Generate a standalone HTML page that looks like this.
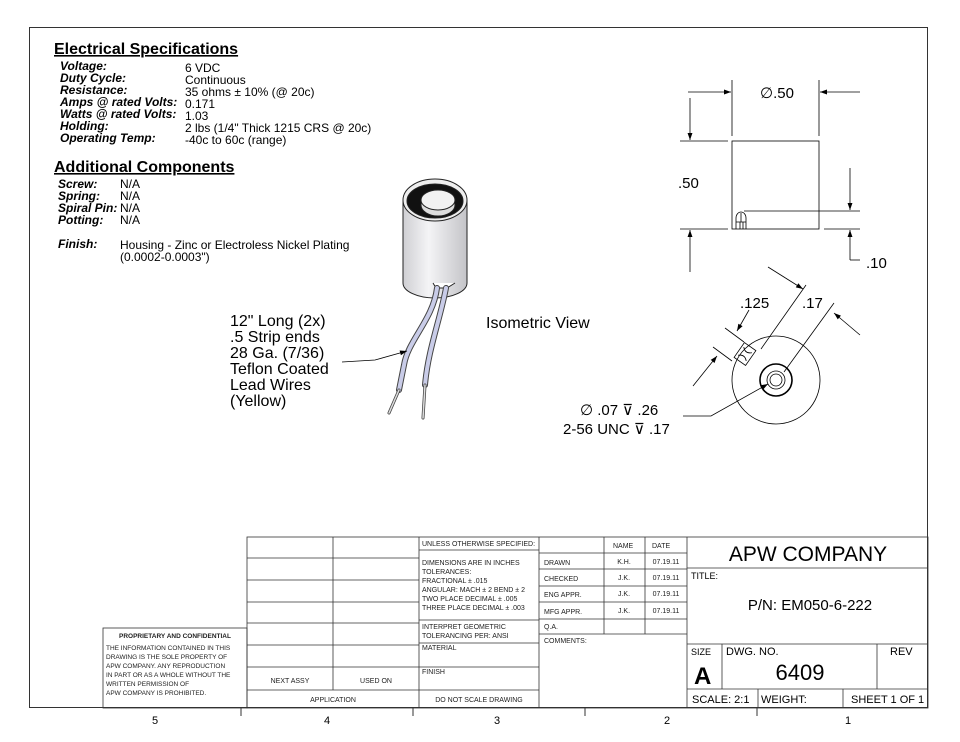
<!DOCTYPE html>
<html><head><meta charset="utf-8"><style>
html,body{margin:0;padding:0;background:#fff;}
svg{display:block;font-family:"Liberation Sans",sans-serif;}
</style></head><body>
<svg width="960" height="742" viewBox="0 0 960 742" xmlns="http://www.w3.org/2000/svg">
<defs>
<marker id="ar" viewBox="0 0 10 10" refX="10" refY="5" markerWidth="9" markerHeight="7" orient="auto" markerUnits="userSpaceOnUse"><path d="M0,1.5 L10,5 L0,8.5 z" fill="#000"/></marker>
<linearGradient id="cyl" x1="0" x2="1"><stop offset="0" stop-color="#cfcfd3"/><stop offset="0.4" stop-color="#f4f4f6"/><stop offset="1" stop-color="#c4c4c8"/></linearGradient>
</defs>
<rect x="0" y="0" width="960" height="742" fill="#fff"/>
<rect x="29.5" y="27.5" width="898" height="680" fill="none" stroke="#333" stroke-width="1"/>
<g stroke="#333" stroke-width="1">
<line x1="241" y1="708" x2="241" y2="716"/><line x1="413" y1="708" x2="413" y2="716"/><line x1="585" y1="708" x2="585" y2="716"/><line x1="757" y1="708" x2="757" y2="716"/>
</g>
<g font-size="11" text-anchor="middle"><text x="155" y="724">5</text><text x="327" y="724">4</text><text x="497" y="724">3</text><text x="667" y="724">2</text><text x="848" y="724">1</text></g>

<text x="54" y="54" font-size="16" font-weight="bold" text-decoration="underline">Electrical Specifications</text>
<g font-size="12" font-weight="bold" font-style="italic">
<text x="60" y="70">Voltage:</text><text x="60" y="82">Duty Cycle:</text><text x="60" y="94">Resistance:</text><text x="60" y="106">Amps @ rated Volts:</text><text x="60" y="118">Watts @ rated Volts:</text><text x="60" y="130">Holding:</text><text x="60" y="142">Operating Temp:</text>
</g>
<g font-size="12">
<text x="185" y="72">6 VDC</text><text x="185" y="84">Continuous</text><text x="185" y="96">35 ohms ± 10% (@ 20c)</text><text x="185" y="108">0.171</text><text x="185" y="120">1.03</text><text x="185" y="132">2 lbs (1/4" Thick 1215 CRS @ 20c)</text><text x="185" y="144">-40c to 60c (range)</text>
</g>
<text x="54" y="172" font-size="16" font-weight="bold" text-decoration="underline">Additional Components</text>
<g font-size="12" font-weight="bold" font-style="italic">
<text x="58" y="188">Screw:</text><text x="58" y="200">Spring:</text><text x="58" y="212">Spiral Pin:</text><text x="58" y="224">Potting:</text><text x="58" y="248">Finish:</text>
</g>
<g font-size="12">
<text x="120" y="188">N/A</text><text x="120" y="200">N/A</text><text x="120" y="212">N/A</text><text x="120" y="224">N/A</text>
<text x="120" y="249">Housing - Zinc or Electroless Nickel Plating</text><text x="120" y="261">(0.0002-0.0003")</text>
</g>

<g stroke="#222" stroke-width="1">
<path d="M403,200 L403,283 A32,15 0 0 0 467,283 L467,200 Z" fill="url(#cyl)"/>
<ellipse cx="435" cy="200" rx="32" ry="21" fill="#eee"/>
<ellipse cx="435" cy="201" rx="28" ry="17" fill="#111"/>
<ellipse cx="438" cy="205" rx="17" ry="11" fill="#ddd"/>
<ellipse cx="438" cy="200" rx="17" ry="10" fill="#f2f2f2"/>
<path d="M433,283 L436,288 L447,288 L455,283" fill="#fff"/>
</g>
<g fill="none" stroke-linecap="round">
<path d="M437,288 C433,320 408,340 404,365 L399,390" stroke="#444" stroke-width="6"/>
<path d="M437,288 C433,320 408,340 404,365 L399,390" stroke="#c9cce8" stroke-width="4"/>
<path d="M399,390 L389,413" stroke="#444" stroke-width="3"/><path d="M399,390 L389,413" stroke="#ddd" stroke-width="1.5"/>
<path d="M446,288 C440,320 428,350 425,385" stroke="#444" stroke-width="6"/>
<path d="M446,288 C440,320 428,350 425,385" stroke="#c9cce8" stroke-width="4"/>
<path d="M425,385 L423,418" stroke="#444" stroke-width="3"/><path d="M425,385 L423,418" stroke="#ddd" stroke-width="1.5"/>
</g>
<polyline points="342,362 375,360 407,351" fill="none" stroke="#000" stroke-width="0.8" marker-end="url(#ar)"/>
<g font-size="16">
<text x="230" y="326">12" Long (2x)</text><text x="230" y="342">.5 Strip ends</text><text x="230" y="358">28 Ga. (7/36)</text><text x="230" y="374">Teflon Coated</text><text x="230" y="390">Lead Wires</text><text x="230" y="406">(Yellow)</text>
<text x="486" y="328">Isometric View</text>
</g>

<g stroke="#000" stroke-width="0.8" fill="none">
<rect x="732" y="141" width="87" height="88"/>
<line x1="732" y1="80" x2="732" y2="136"/><line x1="819" y1="80" x2="819" y2="136"/>
<line x1="688" y1="92" x2="731" y2="92" marker-end="url(#ar)"/><line x1="860" y1="92" x2="820" y2="92" marker-end="url(#ar)"/>
<line x1="680" y1="141" x2="728" y2="141"/><line x1="680" y1="229" x2="728" y2="229"/>
<line x1="690" y1="98" x2="690" y2="140" marker-end="url(#ar)"/><line x1="690" y1="272" x2="690" y2="230" marker-end="url(#ar)"/>
<line x1="744" y1="211" x2="860" y2="211"/><line x1="824" y1="229" x2="860" y2="229"/>
<line x1="850" y1="168" x2="850" y2="210" marker-end="url(#ar)"/><line x1="850" y1="260" x2="850" y2="230" marker-end="url(#ar)"/>
<line x1="850" y1="260" x2="860" y2="260"/>
<path d="M736,229 L736,218 A5,6 0 0 1 746,218 L746,229 M736,222 L746,222 M740,222 L740,229 M743,222 L743,229 M741,213 L741,222"/>
</g>
<text x="760" y="98" font-size="15">∅.50</text>
<text x="678" y="188" font-size="15">.50</text>
<text x="866" y="268" font-size="15">.10</text>

<g stroke="#000" stroke-width="0.8" fill="none">
<circle cx="776" cy="380" r="44"/>
<circle cx="776" cy="380" r="16" stroke-width="1.6"/>
<circle cx="776" cy="380" r="9"/><circle cx="776" cy="380" r="6"/>
<g transform="rotate(-55 745 354)"><rect x="736" y="347" width="18" height="14"/><path d="M740,349 Q745,354 740,359 M750,349 Q745,354 750,359"/></g>
<line x1="761" y1="349" x2="806" y2="285"/><line x1="784" y1="372" x2="834" y2="303"/>
<line x1="768" y1="267" x2="803" y2="289" marker-end="url(#ar)"/><line x1="860" y1="335" x2="834" y2="313" marker-end="url(#ar)"/>
<line x1="744" y1="342" x2="725" y2="328"/><line x1="732" y1="361" x2="713" y2="347"/>
<line x1="749" y1="310" x2="737" y2="331" marker-end="url(#ar)"/><line x1="693" y1="386" x2="717" y2="356" marker-end="url(#ar)"/>
<polyline points="683,416 711,416 768,384" marker-end="url(#ar)"/>
</g>
<text x="740" y="308" font-size="15">.125</text>
<text x="802" y="308" font-size="15">.17</text>
<text x="580" y="415" font-size="15">∅ .07 ⊽ .26</text>
<text x="563" y="434" font-size="15">2-56 UNC ⊽ .17</text>

<g stroke="#333" stroke-width="0.8" fill="none">
<rect x="247" y="537" width="681" height="171"/>
<line x1="333" y1="537" x2="333" y2="690"/><line x1="419" y1="537" x2="419" y2="708"/><line x1="539" y1="537" x2="539" y2="708"/><line x1="687" y1="537" x2="687" y2="708"/>
<line x1="247" y1="558" x2="419" y2="558"/><line x1="247" y1="580" x2="419" y2="580"/><line x1="247" y1="602" x2="419" y2="602"/><line x1="247" y1="623" x2="419" y2="623"/><line x1="247" y1="645" x2="419" y2="645"/><line x1="247" y1="667" x2="419" y2="667"/><line x1="247" y1="690" x2="539" y2="690"/>
<line x1="419" y1="550" x2="539" y2="550"/><line x1="419" y1="620" x2="539" y2="620"/><line x1="419" y1="643" x2="539" y2="643"/><line x1="419" y1="667" x2="539" y2="667"/>
<line x1="539" y1="553" x2="687" y2="553"/><line x1="539" y1="569" x2="687" y2="569"/><line x1="539" y1="586" x2="687" y2="586"/><line x1="539" y1="602" x2="687" y2="602"/><line x1="539" y1="619" x2="687" y2="619"/><line x1="539" y1="634" x2="687" y2="634"/>
<line x1="604" y1="537" x2="604" y2="634"/><line x1="645" y1="537" x2="645" y2="634"/>
<line x1="687" y1="568" x2="928" y2="568"/><line x1="687" y1="644" x2="928" y2="644"/><line x1="687" y1="689" x2="928" y2="689"/>
<line x1="722" y1="644" x2="722" y2="689"/><line x1="877" y1="644" x2="877" y2="689"/><line x1="758" y1="689" x2="758" y2="708"/><line x1="843" y1="689" x2="843" y2="708"/>
<rect x="103" y="628" width="144" height="80"/>
</g>
<g font-size="7" fill="#222">
<text x="290" y="683" text-anchor="middle">NEXT ASSY</text><text x="376" y="683" text-anchor="middle">USED ON</text>
<text x="333" y="702" text-anchor="middle">APPLICATION</text><text x="479" y="702" text-anchor="middle">DO NOT SCALE DRAWING</text>
<text x="422" y="546">UNLESS OTHERWISE SPECIFIED:</text>
<text x="422" y="565">DIMENSIONS ARE IN INCHES</text><text x="422" y="574">TOLERANCES:</text><text x="422" y="583">FRACTIONAL ± .015</text><text x="422" y="592">ANGULAR: MACH ± 2    BEND ± 2</text><text x="422" y="601">TWO PLACE DECIMAL    ± .005</text><text x="422" y="610">THREE PLACE DECIMAL  ± .003</text>
<text x="422" y="629">INTERPRET GEOMETRIC</text><text x="422" y="638">TOLERANCING PER: ANSI</text>
<text x="422" y="650">MATERIAL</text><text x="422" y="674">FINISH</text>
<text x="613" y="548">NAME</text><text x="652" y="548">DATE</text>
<text x="544" y="565">DRAWN</text><text x="544" y="581">CHECKED</text><text x="544" y="597">ENG APPR.</text><text x="544" y="614">MFG APPR.</text><text x="544" y="629">Q.A.</text><text x="544" y="643">COMMENTS:</text>
<text x="624" y="564" text-anchor="middle">K.H.</text><text x="624" y="580" text-anchor="middle">J.K.</text><text x="624" y="596" text-anchor="middle">J.K.</text><text x="624" y="613" text-anchor="middle">J.K.</text>
<text x="666" y="564" text-anchor="middle">07.19.11</text><text x="666" y="580" text-anchor="middle">07.19.11</text><text x="666" y="596" text-anchor="middle">07.19.11</text><text x="666" y="613" text-anchor="middle">07.19.11</text>
<text x="175" y="638" text-anchor="middle" font-weight="bold" font-size="6.5">PROPRIETARY AND CONFIDENTIAL</text>
<text x="106" y="650" font-size="6.5">THE INFORMATION CONTAINED IN THIS</text><text x="106" y="659" font-size="6.5">DRAWING IS THE SOLE PROPERTY OF</text><text x="106" y="668" font-size="6.5">APW COMPANY.  ANY  REPRODUCTION</text><text x="106" y="677" font-size="6.5">IN PART OR AS A WHOLE WITHOUT THE</text><text x="106" y="686" font-size="6.5">WRITTEN PERMISSION OF</text><text x="106" y="695" font-size="6.5">APW COMPANY IS PROHIBITED.</text>
</g>
<text x="808" y="561" font-size="21" text-anchor="middle">APW COMPANY</text>
<text x="691" y="579" font-size="9">TITLE:</text>
<text x="810" y="610" font-size="15" text-anchor="middle">P/N: EM050-6-222</text>
<text x="691" y="655" font-size="9">SIZE</text>
<text x="694" y="684" font-size="24" font-weight="bold">A</text>
<text x="726" y="655" font-size="11">DWG.  NO.</text>
<text x="800" y="680" font-size="22" text-anchor="middle">6409</text>
<text x="890" y="655" font-size="11">REV</text>
<text x="692" y="703" font-size="11">SCALE: 2:1</text>
<text x="761" y="703" font-size="11">WEIGHT:</text>
<text x="851" y="703" font-size="11">SHEET 1 OF 1</text>
</svg>
</body></html>
